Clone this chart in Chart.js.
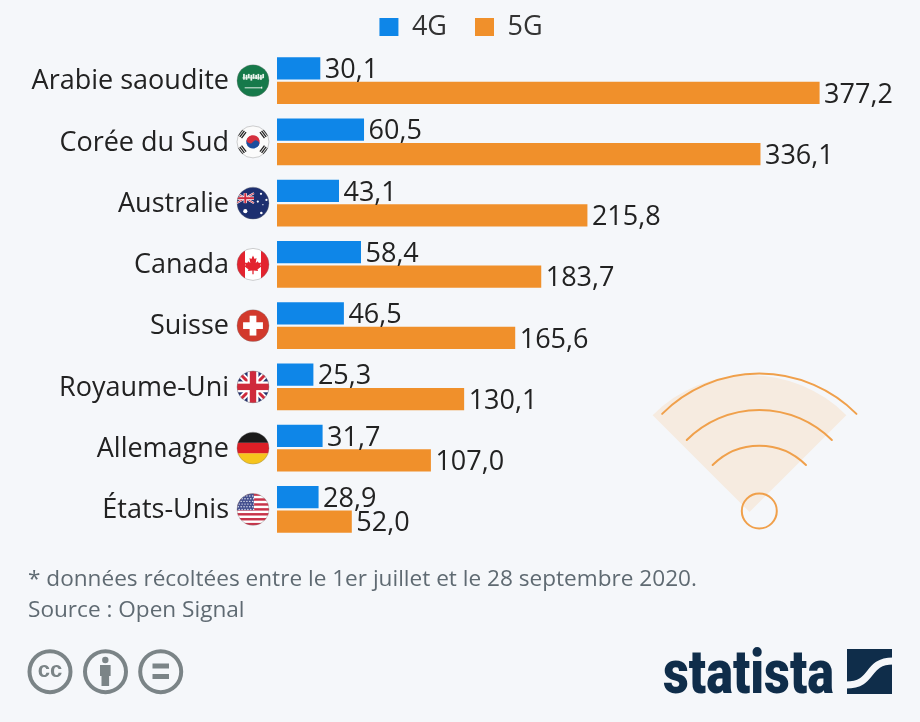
<!DOCTYPE html>
<html lang="fr"><head><meta charset="utf-8">
<script src="https://cdn.jsdelivr.net/npm/chart.js@4/dist/chart.umd.min.js"></script>
<style>html,body{margin:0;padding:0;background:#f5f7fa}canvas{display:block}</style>
</head><body><canvas id="c" width="920" height="722"></canvas>
<script>
const categories=["Arabie saoudite","Corée du Sud","Australie","Canada","Suisse","Royaume-Uni","Allemagne","États-Unis"];
const flags=["sa","kr","au","ca","ch","uk","de","us"];
const values4G=[30.1,60.5,43.1,58.4,46.5,25.3,31.7,28.9];
const values5G=[377.2,336.1,215.8,183.7,165.6,130.1,107.0,52.0];
const seriesNames=["4G","5G"];
const colors=["#0e86e8","#f0902b"];
const footnotes=["* données récoltées entre le 1er juillet et le 28 septembre 2020.","Source : Open Signal"];
const FONT='"Open Sans"';

function rect(c,x,y,w,h,col){c.fillStyle=col;c.fillRect(x,y,w,h);}
function poly(c,p,col){c.fillStyle=col;c.beginPath();p.forEach((q,i)=>i?c.lineTo(q[0],q[1]):c.moveTo(q[0],q[1]));c.closePath();c.fill();}
function line(c,a,b,d,e,w,col){c.strokeStyle=col;c.lineWidth=w;c.beginPath();c.moveTo(a,b);c.lineTo(d,e);c.stroke();}
function jack(c,x,y,w,h){
  rect(c,x,y,w,h,"#22306f");
  line(c,x,y,x+w,y+h,h*.2,"#fff");line(c,x+w,y,x,y+h,h*.2,"#fff");
  line(c,x,y,x+w,y+h,h*.09,"#cf2a3c");line(c,x+w,y,x,y+h,h*.09,"#cf2a3c");
  rect(c,x+w/2-h*.17,y,h*.34,h,"#fff");rect(c,x,y+h/2-h*.17,w,h*.34,"#fff");
  rect(c,x+w/2-h*.1,y,h*.2,h,"#cf2a3c");rect(c,x,y+h/2-h*.1,w,h*.2,"#cf2a3c");
}
const drawFlag={
  sa(c){rect(c,-1,-1,2,2,"#16794a");
    [-.62,-.46,-.32,-.16,-.02,.14,.28,.44,.58].forEach((x,i)=>rect(c,x,-.42+(i%2)*.06,.11,.36-(i%3)*.05,"#e9f2ec"));
    rect(c,-.66,-.2,1.3,.06,"#e9f2ec");
    rect(c,-.52,.42,1.02,.06,"#e9f2ec");rect(c,.5,.38,.08,.12,"#e9f2ec");},
  kr(c){rect(c,-1,-1,2,2,"#fbfbfb");
    c.save();c.rotate(.59);
    c.fillStyle="#d5303e";c.beginPath();c.arc(0,0,.42,Math.PI,0);c.fill();
    c.fillStyle="#1d4e9e";c.beginPath();c.arc(0,0,.42,0,Math.PI);c.fill();
    c.fillStyle="#d5303e";c.beginPath();c.arc(-.21,0,.21,0,Math.PI*2);c.fill();
    c.fillStyle="#1d4e9e";c.beginPath();c.arc(.21,0,.21,0,Math.PI*2);c.fill();c.restore();
    [[-.68,-.5],[.68,-.5],[-.68,.5],[.68,.5]].forEach(p=>{c.save();c.translate(p[0],p[1]);c.rotate(Math.atan2(p[1],p[0])+Math.PI/2);
      [-.13,0,.13].forEach(y=>rect(c,-.24,y-.04,.48,.08,"#222"));c.restore();});},
  au(c){rect(c,-1,-1,2,2,"#1d2f6f");jack(c,-1.02,-.62,1.08,.62);
    [[-.48,.5,.13],[.5,-.58,.07],[.84,-.2,.07],[.3,-.1,.07],[.52,.62,.08],[.62,.1,.04]].forEach(s=>{c.fillStyle="#fff";c.beginPath();c.arc(s[0],s[1],s[2],0,7);c.fill();});},
  ca(c){rect(c,-1,-1,2,2,"#fff");rect(c,-1,-1,.5,2,"#e3232f");rect(c,.5,-1,.5,2,"#e3232f");
    poly(c,[[0,-.55],[.1,-.34],[.22,-.4],[.17,-.08],[.3,-.2],[.36,-.08],[.52,-.12],[.46,.06],[.54,.12],[.28,.32],[.32,.42],[.04,.38],[.04,.62],[-.04,.62],[-.04,.38],[-.32,.42],[-.28,.32],[-.54,.12],[-.46,.06],[-.52,-.12],[-.36,-.08],[-.3,-.2],[-.17,-.08],[-.22,-.4],[-.1,-.34]],"#e3232f");},
  ch(c){rect(c,-1,-1,2,2,"#d2392c");rect(c,-.62,-.21,1.24,.42,"#fff");rect(c,-.21,-.62,.42,1.24,"#fff");},
  uk(c){jack(c,-1,-1,2,2);},
  de(c){rect(c,-1,-1,2,.67,"#1a1a1a");rect(c,-1,-.33,2,.67,"#dc1f26");rect(c,-1,.33,2,.67,"#f6c41c");},
  us(c){rect(c,-1,-1,2,2,"#fff");for(let i=0;i<13;i+=2)rect(c,-1,-1+i*2/13,2,2/13,"#c8344a");
    rect(c,-1,-1,1.05,1.05,"#45508f");c.fillStyle="#e4e6f2";
    for(let r=0;r<6;r++)for(let k=0;k<6;k++){c.beginPath();c.arc(-.92+k*.18+(r%2)*.06,-.84+r*.17,.045,0,7);c.fill();}}
};

const decoPlugin={id:"deco",
  beforeLayout(ch){const L=ch.legend;if(L&&!L._patched){L._patched=true;const f=L.fit;
      L.fit=function(){f.call(this);this.height=50;};
      const d=L.draw;L.draw=function(){const x=this.ctx;x.save();x.translate(1,-14);d.call(this);x.restore();};}},
  beforeDatasetsDraw(ch){const c=ch.ctx;c.save();
    c.fillStyle="#f6ebe0";c.beginPath();c.moveTo(749.5,512);c.arc(749.5,512,137,-Math.PI*.75,-Math.PI*.25);c.closePath();c.fill();
    c.strokeStyle="#f0a04b";c.lineWidth=2;c.lineCap="round";
    [[511,137.4],[512.6,102.6],[511.7,66]].forEach(a=>{c.beginPath();c.arc(759.3,a[0],a[1],-Math.PI*.75,-Math.PI*.25);c.stroke();});
    c.beginPath();c.arc(759.3,511,17.5,0,Math.PI*2);c.stroke();
    c.restore();},
  afterDatasetsDraw(ch){const c=ch.ctx;c.save();
    c.font="27px "+FONT;c.fillStyle="#222";c.textBaseline="middle";c.textAlign="left";
    ch.data.datasets.forEach((ds,i)=>ch.getDatasetMeta(i).data.forEach((el,j)=>{
      c.fillText(ds.data[j].toFixed(1).replace(".",","),el.x+4.5,el.y+2);}));
    const y=ch.scales.y;
    flags.forEach((f,i)=>{const cy=y.getPixelForTick(i);c.save();c.translate(253,cy);c.scale(16,16);
      c.beginPath();c.arc(0,0,1,0,Math.PI*2);c.clip();drawFlag[f](c);c.restore();
      c.strokeStyle="rgba(120,120,120,.35)";c.lineWidth=1;c.beginPath();c.arc(253,cy,16,0,Math.PI*2);c.stroke();});
    c.font="22.6px "+FONT;c.fillStyle="#5f6a72";c.textBaseline="alphabetic";
    c.fillText(footnotes[0],28,586);c.fillText(footnotes[1],28,617);
    const g="#7b8487";c.strokeStyle=g;c.lineWidth=4;
    [50,105.5,160.7].forEach(x=>{c.beginPath();c.arc(x,671.7,20.5,0,Math.PI*2);c.stroke();});
    c.fillStyle=g;c.font='bold 22px "Liberation Sans"';c.textAlign="center";c.textBaseline="middle";c.fillText("cc",50,671);
    c.beginPath();c.arc(105.3,660,3.2,0,7);c.fill();rect(c,100,665,10.6,11,g);rect(c,101.5,675,7.6,11,g);
    rect(c,152.5,663.5,16.5,5,g);rect(c,152.5,674,16.5,5,g);
    const n="#0f2d4a";c.fillStyle=n;c.textAlign="left";c.textBaseline="alphabetic";
    c.font='900 62px Roboto';c.fillText("statista",663,693,171);
    rect(c,847,649,45,45,n);
    c.strokeStyle="#f5f7fa";c.lineWidth=7;c.lineCap="butt";c.beginPath();c.moveTo(846,685);c.bezierCurveTo(875,685,865,661,893,661);c.stroke();
    c.restore();}
};

new Chart(document.getElementById("c"),{type:"bar",
  data:{labels:categories,datasets:[
    {label:seriesNames[0],data:values4G,backgroundColor:colors[0]},
    {label:seriesNames[1],data:values5G,backgroundColor:colors[1]}]},
  options:{indexAxis:"y",responsive:false,animation:false,devicePixelRatio:1,
    categoryPercentage:.8,barPercentage:.9,
    layout:{padding:{top:0,left:0,right:0,bottom:182}},
    plugins:{tooltip:{enabled:false},
      legend:{position:"top",labels:{boxWidth:19,boxHeight:19,padding:28,color:"#333",font:{family:"Open Sans",size:27}}}},
    scales:{
      x:{display:false,min:0,max:447},
      y:{afterFit(s){s.width=277;s.paddingTop=0;s.paddingBottom=0;},grid:{display:false,drawTicks:false},border:{display:false},
        ticks:{padding:48,labelOffset:1,color:"#222",font:{family:"Open Sans",size:27}}}}},
  plugins:[decoPlugin]});
</script></body></html>
